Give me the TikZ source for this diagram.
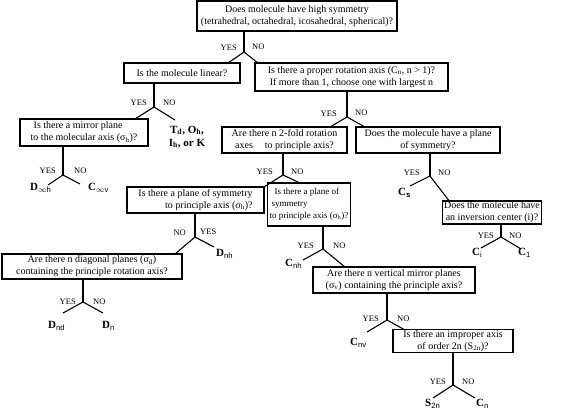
\documentclass[tikz,border=0pt]{standalone}
\usepackage{fontspec}
\setmainfont{Liberation Serif}
\newfontfamily\subsans{Liberation Sans}
\newcommand{\rsub}[1]{\textsubscript{\subsans\mdseries #1}}
\newcommand{\tsub}[1]{\textsubscript{#1}}
\begin{document}
\begin{tikzpicture}[x=1pt,y=-1pt,
  qbox/.style={draw, line width=1.1pt, align=center, inner xsep=2pt, inner ysep=1pt,
    font=\fontsize{10}{12}\selectfont, anchor=center},
  yn/.style={font=\fontsize{8.5}{9}\selectfont, inner sep=0pt},
  res/.style={font=\fontsize{11}{13}\selectfont\bfseries, inner sep=0pt, align=left},
  conn/.style={line width=1.1pt}]
\useasboundingbox (0,0) rectangle (561,409);

% boxes
\node[qbox, minimum width=200pt, minimum height=30pt] (b1) at (297,16)
  {Does molecule have high symmetry\\(tetrahedral, octahedral, icosahedral, spherical)?};
\node[qbox, minimum width=116pt, minimum height=20pt] (b2) at (182,73)
  {Is the molecule linear?};
\node[qbox, minimum width=128pt, minimum height=27pt, align=left] (b3) at (84,132.5)
  {\hspace*{3pt}Is there a mirror plane\\to the molecular axis (σ\tsub{h})?};
\node[qbox, minimum width=193pt, minimum height=28pt] (b5) at (351.5,77)
  {Is there a proper rotation axis (C\tsub{n}, n > 1)?\\If more than 1, choose one with largest n};
\node[qbox, minimum width=125pt, minimum height=26pt] (b6) at (284.5,140)
  {Are there n 2-fold rotation\\axes\hspace{12pt}to principle axis?};
\node[qbox, minimum width=144pt, minimum height=26pt] (b7) at (428,140)
  {Does the molecule have a plane\\of symmetry?};
\node[qbox, minimum width=137pt, minimum height=26pt, align=right] (b9) at (195.5,200)
  {Is there a plane of symmetry\\to principle axis (σ\tsub{h})?};
\node[qbox, minimum width=78pt, minimum height=43pt, align=left, font=\fontsize{9}{12}\selectfont] (b11) at (309,204.5)
  {\hspace*{5pt}Is there a plane of\\\hspace*{2pt}symmetry\\to principle axis (σ\tsub{h})?};
\node[qbox, minimum width=180pt, minimum height=25pt] (b10) at (92,266.5)
  {Are there n diagonal planes (σ\tsub{d})\\containing the principle rotation axis?};
\node[qbox, minimum width=162pt, minimum height=26pt] (b12) at (394,280)
  {Are there n vertical mirror planes\\(σ\tsub{v}) containing the principle axis?};
\node[qbox, minimum width=120pt, minimum height=22pt] (b13) at (453,341)
  {Is there an improper axis\\of order 2n (S\tsub{2n})?};
\node[qbox, minimum width=96pt, minimum height=21pt] (b15) at (492,212.5)
  {Does the molecule have\\an inversion center (i)?};

% results
\node[res, align=center] (rT) at (187,137) {T\tsub{d}, O\tsub{h},\\I\tsub{h}, or K};
\node[res, anchor=west] (rDinfh) at (30,188) {D\rsub{$\infty$h}};
\node[res, anchor=west] (rCinfv) at (88,188) {C\rsub{$\infty$v}};
\node[res, anchor=west] (rCs) at (398,193) {C\rsub{\bfseries s}};
\node[res, anchor=west] (rDnh) at (216,254) {D\rsub{nh}};
\node[res, anchor=west] (rCnh) at (285,264) {C\rsub{nh}};
\node[res, anchor=west] (rDnd) at (48,326) {D\rsub{nd}};
\node[res, anchor=west] (rDn) at (102,326) {D\rsub{n}};
\node[res, anchor=west] (rCi) at (472,253) {C\rsub{i}};
\node[res, anchor=west] (rC1) at (518,253) {C\rsub{1}};
\node[res, anchor=west] (rCnv) at (350,343) {C\rsub{nv}};
\node[res, anchor=west] (rS2n) at (425,404) {S\rsub{2n}};
\node[res, anchor=west] (rCn) at (476,404) {C\rsub{n}};

% junctions and branch ends
\coordinate (j1) at (244,52);  \coordinate (e1a) at (228,63);  \coordinate (e1b) at (258,63);
\coordinate (j2) at (154,107); \coordinate (e2a) at (135,119); \coordinate (e2b) at (175,120);
\coordinate (j3) at (63,175);  \coordinate (e3a) at (48,185);  \coordinate (e3b) at (80,184);
\coordinate (j5) at (347,117); \coordinate (e5a) at (330,127); \coordinate (e5b) at (365,127);
\coordinate (j6) at (283,175); \coordinate (e6a) at (264,187); \coordinate (e6b) at (300,183);
\coordinate (j7) at (430,176); \coordinate (e7a) at (410,186); \coordinate (e7b) at (450,202);
\coordinate (j9) at (195,237); \coordinate (e9a) at (175,254); \coordinate (e9b) at (214,247);
\coordinate (j10) at (83,302); \coordinate (e10a) at (63,313); \coordinate (e10b) at (103,313);
\coordinate (j11) at (323,249); \coordinate (e11a) at (303,260); \coordinate (e11b) at (345,267);
\coordinate (j12) at (387,320); \coordinate (e12a) at (367,332); \coordinate (e12b) at (405,330);
\coordinate (j13) at (453,385); \coordinate (e13a) at (433,398); \coordinate (e13b) at (475,398);
\coordinate (j15) at (501,237); \coordinate (e15a) at (481,248); \coordinate (e15b) at (521,249);

\foreach \b/\j in {b1/j1,b2/j2,b3/j3,b5/j5,b6/j6,b7/j7,b9/j9,b10/j10,b11/j11,b12/j12,b13/j13,b15/j15}
  \draw[conn] (\b.south -| \j) -- (\j);
\foreach \j in {1,2,3,5,6,7,9,10,11,12,13,15}
  \draw[conn] (e\j a) -- (j\j) -- (e\j b);

% YES / NO labels
\node[yn, anchor=east] (y1) at (237,48) {YES}; \node[yn, anchor=west] (n1) at (252,47) {NO};
\node[yn, anchor=east] (y2) at (147,103) {YES}; \node[yn, anchor=west] (n2) at (163,103) {NO};
\node[yn, anchor=east] (y3) at (56,171) {YES}; \node[yn, anchor=west] (n3) at (74,171) {NO};
\node[yn, anchor=east] (y5) at (337,114) {YES}; \node[yn, anchor=west] (n5) at (355,113) {NO};
\node[yn, anchor=east] (y6) at (273,172) {YES}; \node[yn, anchor=west] (n6) at (291,172) {NO};
\node[yn, anchor=east] (y7) at (420,173) {YES}; \node[yn, anchor=west] (n7) at (438,173) {NO};
\node[yn, anchor=east] (n9) at (186,233) {NO}; \node[yn, anchor=west] (y9) at (200,232) {YES};
\node[yn, anchor=east] (y10) at (76,302) {YES}; \node[yn, anchor=west] (n10) at (93,302) {NO};
\node[yn, anchor=east] (y11) at (314,246) {YES}; \node[yn, anchor=west] (n11) at (333,246) {NO};
\node[yn, anchor=east] (y12) at (379,319) {YES}; \node[yn, anchor=west] (n12) at (397,319) {NO};
\node[yn, anchor=east] (y13) at (446,382) {YES}; \node[yn, anchor=west] (n13) at (462,382) {NO};
\node[yn, anchor=east] (y15) at (494,236) {YES}; \node[yn, anchor=west] (n15) at (509,236) {NO};
\end{tikzpicture}
\end{document}
